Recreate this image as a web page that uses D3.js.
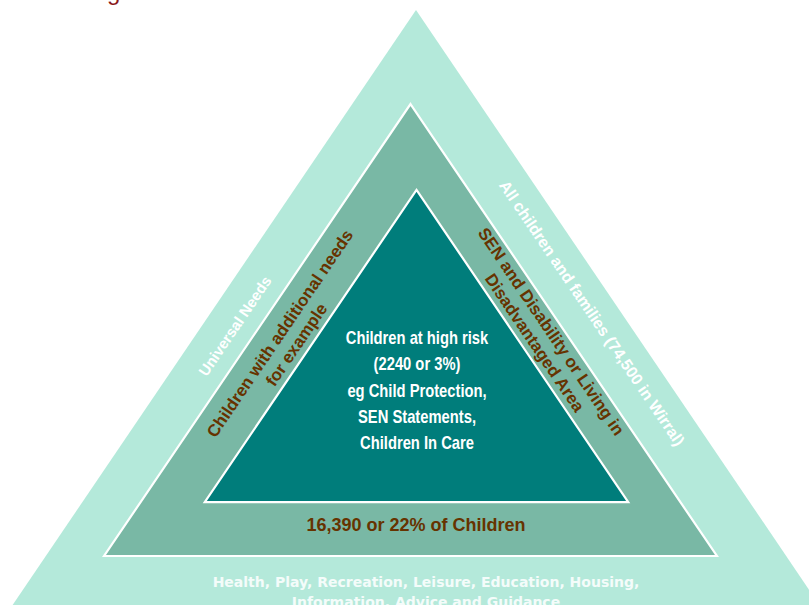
<!DOCTYPE html>
<html>
<head>
<meta charset="utf-8">
<script src="https://cdn.jsdelivr.net/npm/d3@7"></script>
<style>
  body { margin: 0; background: #fff; }
  svg { display: block; }
</style>
</head>
<body>
<svg width="809" height="605"></svg>
<script>
// tiers of the pyramid, outermost first
var tierNames = ["Universal", "Additional", "High risk"];
var tierColors = ["#b4e9da", "#79b8a5", "#007d7b"];
// apex and base of each tier, in pyramid units (0 = top of page, 120.8 = base line of middle tier)
var tierApex = [0, 20.8, 39.8];
var tierBase = [144, 120.8, 108.9];
var tierCenter = [416, 410.5, 416.5];

var leftLabels = [["Universal Needs"], ["Children with additional needs", "for example"]];
var rightLabels = [["All children and families (74,500 in Wirral)"], ["SEN and Disability or Living in", "Disadvantaged Area"]];
var centerLines = ["Children at high risk", "(2240 or 3%)", "eg Child Protection,", "SEN Statements,", "Children In Care"];
var middleBaseLabel = "16,390 or 22% of Children";
var outerBaseLines = ["Health, Play, Recreation, Leisure, Education, Housing,", "Information, Advice and Guidance"];

var svg = d3.select("svg"),
    width = +svg.attr("width"),
    height = +svg.attr("height");

var y = d3.scaleLinear().domain([0, 120.8]).range([10, 556]);
var slope = 1.475; // dy/dx of the triangle sides
var angle = Math.atan(slope) * 180 / Math.PI;

function tri(i) {
    var ya = y(tierApex[i]), yb = y(tierBase[i]), cx = tierCenter[i];
    var hw = (yb - ya) / slope;
    return [[cx, ya], [cx + hw, yb], [cx - hw, yb]];
}

svg.selectAll("path.tier")
    .data(tierNames)
    .enter().append("path")
    .attr("class", "tier")
    .attr("d", function(d, i) { return d3.line()(tri(i)) + "Z"; })
    .attr("fill", function(d, i) { return tierColors[i]; })
    .attr("stroke", function(d, i) { return i == 0 ? "none" : "#fff"; })
    .attr("stroke-width", 2.2);

// title fragment peeking in at the top
svg.append("text")
    .attr("x", 107).attr("y", 0)
    .style("font", "24px 'Liberation Sans', Arial, sans-serif")
    .attr("fill", "#8b1a1a")
    .text("g");

function sideText(lines, cx, cy, rot, color, size, gap) {
    var g = svg.append("g")
        .attr("transform", "translate(" + cx + "," + cy + ") rotate(" + rot + ")");
    g.selectAll("text")
        .data(lines)
        .enter().append("text")
        .attr("x", 0)
        .attr("y", function(d, i) { return (i - (lines.length - 1) / 2) * gap; })
        .attr("dy", "0.35em")
        .attr("text-anchor", "middle")
        .attr("fill", color)
        .style("font", "bold " + size + "px 'Liberation Sans', Arial, sans-serif")
        .text(function(d) { return d; });
}

sideText(leftLabels[0], 235, 326, -angle, "#fff", 15, 17);
sideText(leftLabels[1], 288, 339, -angle, "#663300", 17, 20);
sideText(rightLabels[0], 592, 313, angle, "#fff", 16, 17);
sideText(rightLabels[1], 543, 337, angle, "#663300", 17, 20);

var center = svg.append("g")
    .attr("transform", "translate(417,0) scale(0.82,1)");
center.selectAll("text")
    .data(centerLines)
    .enter().append("text")
    .attr("x", 0)
    .attr("y", function(d, i) { return 338 + i * 26.2; })
    .attr("dy", "0.35em")
    .attr("text-anchor", "middle")
    .attr("fill", "#fff")
    .style("font", "bold 18px 'Liberation Sans', Arial, sans-serif")
    .text(function(d) { return d; });

svg.append("text")
    .attr("x", 416).attr("y", 525)
    .attr("dy", "0.35em")
    .attr("text-anchor", "middle")
    .attr("fill", "#663300")
    .style("font", "bold 18px 'Liberation Sans', Arial, sans-serif")
    .text(middleBaseLabel);

svg.selectAll("text.base")
    .data(outerBaseLines)
    .enter().append("text")
    .attr("class", "base")
    .attr("x", 426)
    .attr("y", function(d, i) { return 582 + i * 20; })
    .attr("dy", "0.35em")
    .attr("text-anchor", "middle")
    .attr("fill", "#f4fcfa")
    .style("font", "bold 14px 'DejaVu Sans', Verdana, sans-serif")
    .text(function(d) { return d; });
</script>
</body>
</html>
